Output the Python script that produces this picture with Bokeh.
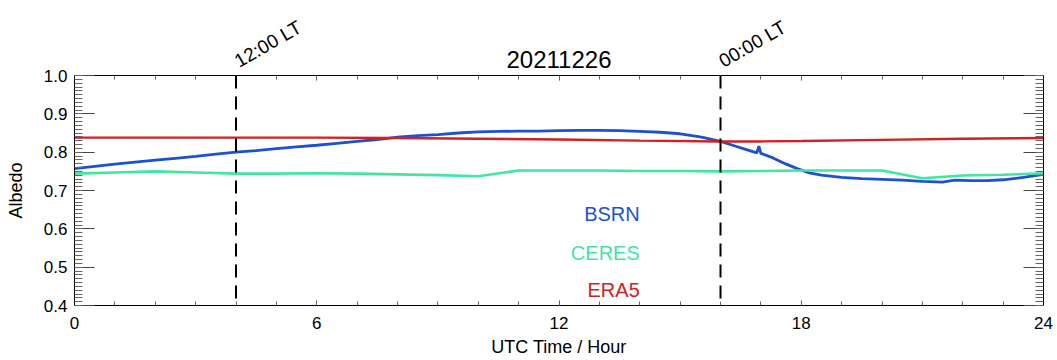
from bokeh.plotting import figure
from bokeh.models import Range1d, LinearAxis, FixedTicker, Span, Label, PrintfTickFormatter
from bokeh.core.properties import value
from bokeh.embed import file_html
from bokeh.resources import INLINE

# ---- data ----
title_text = "20211226"
lt_hours = [4, 16]
lt_labels = ["12:00 LT", "00:00 LT"]

bsrn_hours = [0.0, 0.5, 1.0, 1.5, 2.0, 2.5, 3.0, 3.5, 4.0, 4.5, 5.0, 5.5, 6.0, 6.5,
              7.0, 7.5, 8.0, 8.5, 9.0, 9.5, 10.0, 10.5, 11.0, 11.5, 12.0, 12.5, 13.0,
              13.5, 14.0, 14.5, 15.0, 15.5, 16.0, 16.3, 16.6, 16.9, 16.95, 17.0, 17.3,
              17.6, 17.9, 18.2, 18.5, 19.0, 19.5, 20.0, 20.5, 21.0, 21.5, 21.8, 22.2,
              22.6, 23.0, 23.5, 24.0]
bsrn_albedo = [0.757, 0.763, 0.769, 0.774, 0.779, 0.784, 0.789, 0.795, 0.800, 0.804,
               0.809, 0.814, 0.818, 0.823, 0.828, 0.833, 0.839, 0.843, 0.846, 0.850,
               0.853, 0.854, 0.855, 0.855, 0.856, 0.857, 0.857, 0.856, 0.854, 0.852,
               0.848, 0.840, 0.828, 0.818, 0.808, 0.798, 0.816, 0.797, 0.785, 0.770,
               0.757, 0.746, 0.740, 0.734, 0.731, 0.729, 0.727, 0.724, 0.722, 0.727,
               0.726, 0.726, 0.728, 0.734, 0.742]

ceres_hours = list(range(0, 25))
ceres_albedo = [0.744, 0.747, 0.750, 0.747, 0.744, 0.744, 0.745, 0.744, 0.742, 0.740,
                0.737, 0.752, 0.752, 0.752, 0.751, 0.751, 0.750, 0.751, 0.752, 0.752,
                0.752, 0.732, 0.739, 0.741, 0.745]

era5_hours = [0, 2, 4, 6, 8, 10, 12, 14, 16, 17, 18, 20, 22, 24]
era5_albedo = [0.838, 0.838, 0.838, 0.838, 0.837, 0.835, 0.833, 0.830, 0.828, 0.828,
               0.829, 0.832, 0.835, 0.837]

series_names = ["BSRN", "CERES", "ERA5"]
series_colors = ["#1c52d2", "#3de8a0", "#d42020"]

x_ticks = [0, 6, 12, 18, 24]
x_minor = list(range(0, 25))
y_ticks = [0.4, 0.5, 0.6, 0.7, 0.8, 0.9, 1.0]
y_minor = [round(0.4 + 0.01 * i, 2) for i in range(61)]

FONT = "Liberation Sans"

p = figure(width=1057, height=360, output_backend="svg", toolbar_location=None,
           x_range=Range1d(0, 24), y_range=Range1d(0.4, 1.0),
           x_axis_location=None, y_axis_location=None,
           min_border_left=74, min_border_right=14, min_border_top=75, min_border_bottom=55)
p.xgrid.visible = False
p.ygrid.visible = False
p.outline_line_color = "black"
p.background_fill_color = "white"
p.border_fill_color = "white"

xt = FixedTicker(ticks=x_ticks, minor_ticks=x_minor)
yt = FixedTicker(ticks=y_ticks, minor_ticks=y_minor)


def style(ax, labels=True, maj=5, mino=4):
    ax.axis_line_color = "black"
    ax.axis_line_width = 1
    ax.major_tick_in = maj
    ax.major_tick_out = 0
    ax.minor_tick_in = mino
    ax.minor_tick_out = 0
    ax.major_tick_line_color = "#444444"
    ax.minor_tick_line_color = "#666666"
    ax.axis_label_text_color = "black"
    if labels:
        ax.major_label_text_font = FONT
        ax.major_label_text_font_size = "17px"
        ax.major_label_text_color = "black"
    else:
        ax.major_label_text_font_size = "1px"
        ax.major_label_text_alpha = 0
        ax.major_label_standoff = 0


bottom = LinearAxis(ticker=xt)
style(bottom)
bottom.major_label_standoff = 11
bottom.axis_label = "UTC Time / Hour"
bottom.axis_label_text_font = FONT
bottom.axis_label_text_font_style = "normal"
bottom.axis_label_text_font_size = "18px"
bottom.axis_label_standoff = 5
p.add_layout(bottom, "below")

top = LinearAxis(ticker=xt)
style(top, labels=False)
p.add_layout(top, "above")

left = LinearAxis(ticker=yt, formatter=PrintfTickFormatter(format="%.1f"))
style(left, maj=20, mino=8)
left.major_label_standoff = 7
left.axis_label = "Albedo"
left.axis_label_text_font = FONT
left.axis_label_text_font_style = "normal"
left.axis_label_text_font_size = "18px"
left.axis_label_standoff = 15
p.add_layout(left, "left")

right = LinearAxis(ticker=yt)
style(right, labels=False, maj=20, mino=8)
p.add_layout(right, "right")

# series
p.line(bsrn_hours, bsrn_albedo, line_color=series_colors[0], line_width=2.8)
p.line(ceres_hours, ceres_albedo, line_color=series_colors[1], line_width=2.6)
p.line(era5_hours, era5_albedo, line_color=series_colors[2], line_width=2.4)

# local time markers
for h in lt_hours:
    p.add_layout(Span(location=h, dimension="height", line_color="black",
                      line_width=2, line_dash="13 8"))
p.text(x=lt_hours, y=[1.034] * len(lt_hours), text=lt_labels, angle=30, angle_units="deg",
       text_font=value(FONT), text_font_size="19px", text_color="black",
       text_align="left", text_baseline="alphabetic", level="overlay")

# title
p.text(x=[12], y=[1.042], text=[title_text], text_font=value(FONT),
       text_font_size="24px", text_color="black",
       text_align="center", text_baseline="alphabetic", level="overlay")

# series name labels
for name, col, yy in zip(series_names, series_colors, [0.640, 0.538, 0.440]):
    p.add_layout(Label(x=14, y=yy, text=name, text_font=FONT, text_font_size="20px",
                       text_color=col, text_align="right", text_baseline="middle"))

open("out.html", "w").write(file_html(p, INLINE))
